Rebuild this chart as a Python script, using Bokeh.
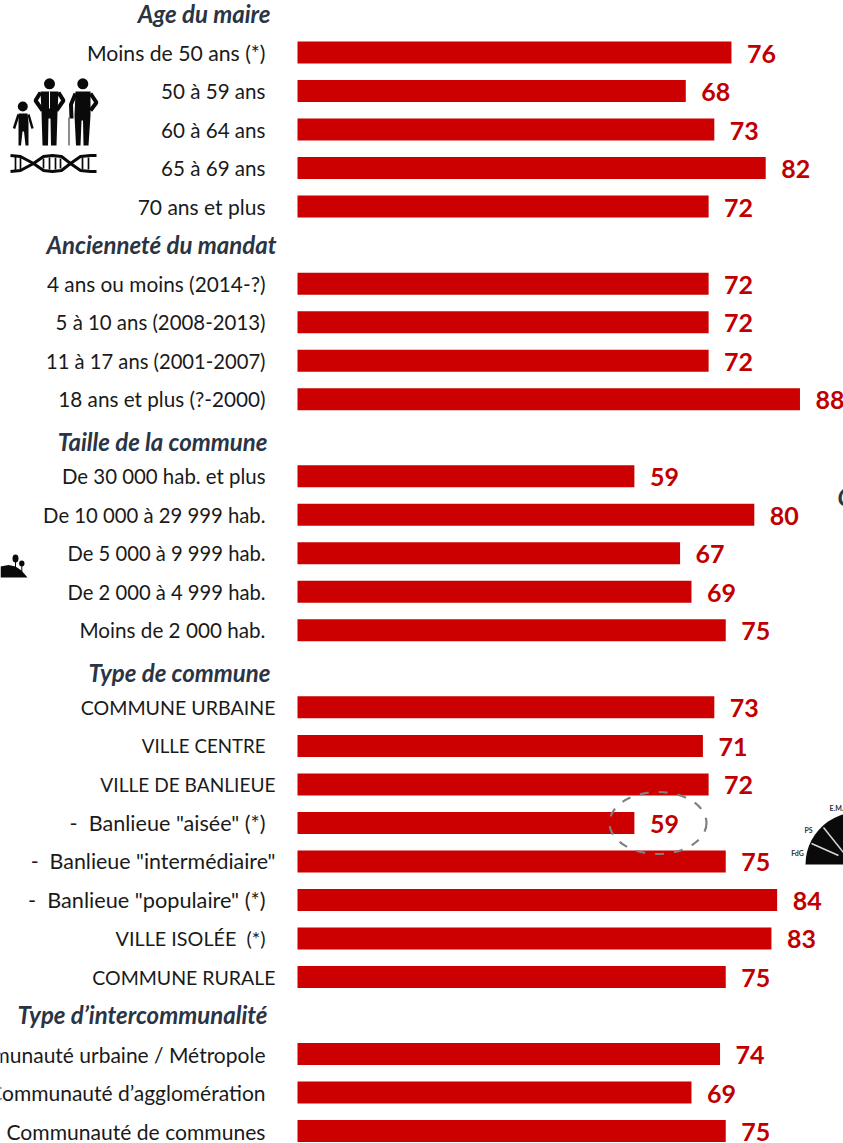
from bokeh.plotting import figure
from bokeh.embed import file_html
from bokeh.resources import INLINE
from bokeh.models import Range1d, ColumnDataSource
from bokeh.core.properties import value

NB = "\u00a0"
rows = ["h1","Moins de 50 ans (*)","50 à 59 ans","60 à 64 ans","65 à 69 ans","70 ans et plus",
        "h2","4 ans ou moins (2014-?)","5 à 10 ans (2008-2013)","11 à 17 ans (2001-2007)","18 ans et plus (?-2000)",
        "h3","De 30 000 hab. et plus","De 10 000 à 29 999 hab.","De 5 000 à 9 999 hab.","De 2 000 à 4 999 hab.","Moins de 2 000 hab.",
        "h4","COMMUNE URBAINE","VILLE CENTRE","VILLE DE BANLIEUE",f"-{NB}{NB}Banlieue \"aisée\" (*)",f"-{NB}{NB}Banlieue \"intermédiaire\"",f"-{NB}{NB}Banlieue \"populaire\" (*)",f"VILLE ISOLÉE{NB}{NB}(*)","COMMUNE RURALE",
        "h5","Communauté urbaine / Métropole","Communauté d’agglomération","Communauté de communes"]
categories = [r for r in rows if not r.startswith("h")]
values = [76,68,73,82,72, 72,72,72,88, 59,80,67,69,75, 73,71,72,59,75,84,83,75, 74,69,75]
label_shift = [0,0,0,0,0, 0,0,0,0, 0,0,0,0,0, 10,0,10,0,10,0,0,10, 0,0,0]
label_px = [21.2,20.6,20.6,20.6,21, 20.8,20.4,20.2,20.7, 20.4,20.3,20.2,20.2,20.7,
            19.6,18.7,19.1,21.6,21.4,21.7,19.8,19.5, 21,21,21.1]
headers = ["h1","h2","h3","h4","h5"]
header_text = ["Age du maire","Ancienneté du mandat","Taille de la commune","Type de commune","Type d’intercommunalité"]
header_right = [270,276,267,270,267]
header_dy = [-1,-1,4,4,-1]

W, H = 843, 1143
PER = 5.71
ROW = 38.52
TOP = 13.5
pos = {r: i for i, r in enumerate(rows)}
p = figure(width=W, height=H, output_backend="svg", toolbar_location=None,
           x_range=Range1d(-297/PER, (W-297)/PER),
           y_range=Range1d((H-TOP)/ROW, -TOP/ROW),
           min_border=0, min_border_left=0, min_border_right=0, min_border_top=0, min_border_bottom=0,
           outline_line_color=None, margin=(0,0,0,0))
p.axis.visible = False
p.grid.visible = False
p.extra_x_ranges["px"] = Range1d(0, W)
p.extra_y_ranges["px"] = Range1d(H, 0)
PX = dict(x_range_name="px", y_range_name="px")

src = ColumnDataSource(dict(cat=[pos[c] for c in categories], val=values, txt=[str(v) for v in values],
                            lab=categories, shift=label_shift, lx=[-32/PER]*len(categories),
                            size=[f"{s}px" for s in label_px]))
p.hbar(y="cat", left=0, right="val", height=22/ROW, source=src, fill_color="#CC0000", line_color=None)
p.text(x="val", y="cat", text="txt", source=src, x_offset=15.5, y_offset=1, text_baseline="middle",
       text_font=value("Lato"), text_font_style="bold", text_font_size="25px", text_color="#C00000")
p.text(x="lx", y="cat", text="lab", source=src, x_offset="shift", text_align="right", text_baseline="middle",
       text_font=value("Lato"), text_font_size="size", text_color="#1a1a1a")
hsrc = ColumnDataSource(dict(y=[pos[h] for h in headers], t=header_text, x=[(r-297)/PER for r in header_right], dy=header_dy))
p.text(x="x", y="y", text="t", source=hsrc, y_offset="dy", text_align="right", text_baseline="middle",
       text_font=value("Lato"), text_font_style="bold italic", text_font_size="24px", text_color="#2a3444")

# dashed highlight
p.ellipse(x=[657.5], y=[822.5], width=[97], height=[62], fill_color=None, line_color="#808080",
          line_width=2.2, line_dash="9 10", **PX)

# clipped heading at right edge
p.text(x=[837], y=[496], text=["C"], text_baseline="middle", text_font=value("Lato"),
       text_font_style="bold italic", text_font_size="24px", text_color="#2a3444", **PX)

# people pictogram
K = "#0a0a0a"
p.circle(x=[22.3,49,82.3], y=[106,83.3,83.3], radius=[5,5.5,5.5], fill_color=K, line_color=None, **PX)
p.patch(x=[18,27,28,28,25,23.5,22,20.5,18,18], y=[113,113,122,145,145,131,131,145,145,122], fill_color=K, line_color=None, **PX)
p.multi_line(xs=[[18,13.5],[28,32]], ys=[[114,128],[114,128]], line_color=K, line_width=2.5, **PX)
p.patch(x=[40,58,57,56,50.5,50,48,47.5,42,41], y=[91,91,112,145,145,118,118,145,145,112], fill_color=K, line_color=None, **PX)
p.multi_line(xs=[[40,35,42],[58,63,56]], ys=[[92,100,110],[92,100,110]], line_color=K, line_width=4, **PX)
p.segment(x0=[49], y0=[91], x1=[49], y1=[108], line_color="#ffffff", line_width=1, **PX)
p.patch(x=[75,90,90,88,83,82.5,81,80,75.5,74], y=[91,91,115,145,145,120,120,145,145,115], fill_color=K, line_color=None, **PX)
p.multi_line(xs=[[75,70.5,71],[90,96,90]], ys=[[93,104,118],[93,102,110]], line_color=K, line_width=4, **PX)
p.line(x=[68.5,68.5], y=[117,145], line_color="#666666", line_width=1.5, **PX)

# DNA pictogram
p.line(x=[10,20,33,43,52,61,70,80,90,96], y=[155,156,163,170,171,170,163,156,155,155], line_color=K, line_width=3, **PX)
p.line(x=[10,20,33,43,52,61,70,80,90,96], y=[171,170,163,156,155,156,163,170,171,171], line_color=K, line_width=3, **PX)
p.segment(x0=[15,20,43,49,55,60,82,88], y0=[156,156,158,157,157,158,157,157],
          x1=[15,20,43,49,55,60,82,88], y1=[170,170,168,169,169,168,169,169], line_color=K, line_width=1.7, **PX)

# hill with trees
p.patch(x=[0,0,8,15,21,27], y=[577,566,564.5,566,570,577], fill_color=K, line_color=None, **PX)
p.ellipse(x=[15,21.3], y=[558,563], width=[6,5.4], height=[8,6], fill_color=K, line_color=None, **PX)
p.segment(x0=[15,21.3], y0=[560,564], x1=[15,21.3], y1=[567,571], line_color=K, line_width=1, **PX)

# hemicycle
p.wedge(x=[857], y=[864], radius=[52], start_angle=[1.2], end_angle=[3.1416],
        fill_color=K, line_color=None, **PX)
p.segment(x0=[811,823], y0=[843,827], x1=[838,843], y1=[855,852], line_color="#d8d8d8", line_width=1.5, **PX)
p.text(x=[797,808,836], y=[852,829,807], text=["FdG","PS","E.M."], text_align="center", text_baseline="middle",
       text_font=value("Lato"), text_font_style="bold", text_font_size="7px", text_color="#333333", **PX)

open("out.html", "w").write(file_html(p, INLINE))
